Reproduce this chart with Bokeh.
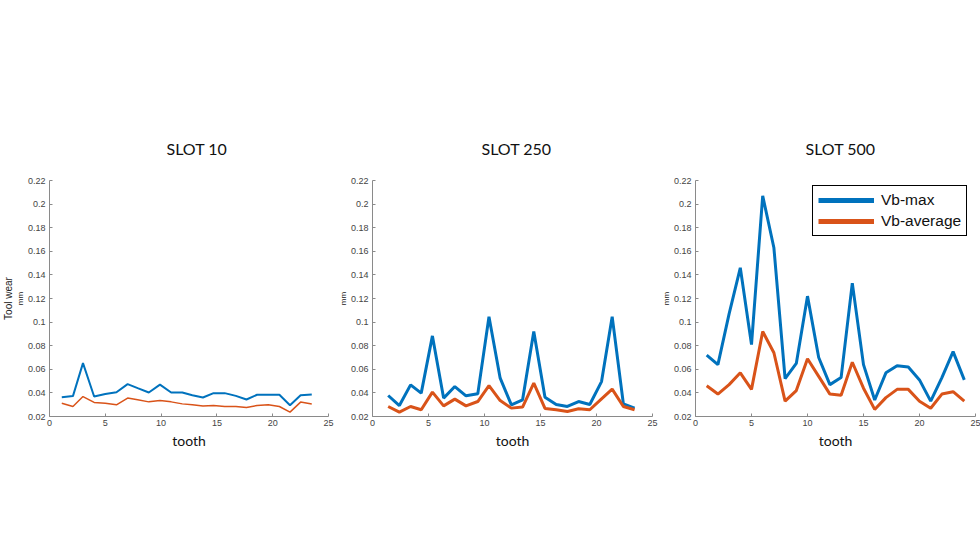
from bokeh.plotting import figure
from bokeh.models import Range1d, FixedTicker, Legend, LegendItem, Spacer, Title
from bokeh.layouts import row, column
from bokeh.embed import file_html
from bokeh.resources import INLINE

# ---------------- data ----------------
titles = ["SLOT 10", "SLOT 250", "SLOT 500"]
x_ticks = [0, 5, 10, 15, 20, 25]
y_ticks = [0.02, 0.04, 0.06, 0.08, 0.1, 0.12, 0.14, 0.16, 0.18, 0.2, 0.22]
series_names = ["Vb-max", "Vb-average"]

x_slot10 = [1.1, 2.1, 3.0, 4.0, 5.0, 6.0, 7.0, 7.9, 8.9, 9.9, 10.9, 11.9,
            12.8, 13.75, 14.7, 15.7, 16.7, 17.65, 18.6, 19.6, 20.6, 21.55, 22.5, 23.5]
vbmax_slot10 = [0.0364, 0.0373, 0.0652, 0.0369, 0.039, 0.0406, 0.0474, 0.044, 0.0403, 0.047,
                0.0403, 0.0403, 0.038, 0.0361, 0.0398, 0.0398, 0.0375, 0.0344, 0.0384, 0.0384,
                0.0384, 0.0296, 0.038, 0.0386]
vbavg_slot10 = [0.0313, 0.0285, 0.0369, 0.0319, 0.0313, 0.0299, 0.0356, 0.0341, 0.0324, 0.0335,
                0.0324, 0.0307, 0.030, 0.029, 0.0293, 0.0285, 0.0285, 0.0276, 0.0293, 0.030,
                0.0285, 0.0237, 0.0322, 0.0305]

x_slot250 = [1.4, 2.4, 3.4, 4.35, 5.35, 6.35, 7.35, 8.35, 9.4, 10.4, 11.4, 12.4,
             13.4, 14.4, 15.4, 16.4, 17.4, 18.4, 19.4, 20.45, 21.4, 22.4, 23.4]
vbmax_slot250 = [0.0378, 0.0293, 0.0468, 0.0398, 0.0883, 0.0356, 0.0454, 0.0375, 0.0392, 0.1046,
                 0.0525, 0.0299, 0.0341, 0.092, 0.0364, 0.0302, 0.0285, 0.0327, 0.0302, 0.0496,
                 0.1046, 0.0307, 0.0271]
vbavg_slot250 = [0.0285, 0.0237, 0.0285, 0.0257, 0.0407, 0.029, 0.0347, 0.029, 0.0327, 0.0462,
                 0.0335, 0.0271, 0.028, 0.0483, 0.0268, 0.0257, 0.0242, 0.0265, 0.0257, 0.035,
                 0.0432, 0.0285, 0.0257]

x_slot500 = [1, 2, 3, 4, 5, 6, 7, 8, 9, 10, 11, 12, 13, 14, 15, 16, 17, 18, 19, 20, 21, 22, 23, 24]
vbmax_slot500 = [0.072, 0.064, 0.107, 0.146, 0.081, 0.207, 0.163, 0.052, 0.065, 0.122, 0.070, 0.047,
                 0.053, 0.133, 0.064, 0.034, 0.057, 0.063, 0.062, 0.051, 0.033, 0.053, 0.075, 0.051]
vbavg_slot500 = [0.046, 0.039, 0.047, 0.057, 0.043, 0.092, 0.074, 0.033, 0.042, 0.069, 0.054, 0.039,
                 0.038, 0.066, 0.044, 0.026, 0.036, 0.043, 0.043, 0.033, 0.027, 0.039, 0.041, 0.033]

BLUE = "#0072BD"
ORANGE = "#D95319"
AXIS_C = "#8a8a8a"
TICK_C = "#444444"
TOP = 72


def make_panel(title, title_off, xs, ymax, yavg, frame_w, bl, br, lw_max, lw_avg, ylabels):
    p = figure(width=frame_w + bl + br, height=TOP + 236 + 45,
               frame_width=frame_w, frame_height=236,
               min_border_left=bl, min_border_right=br,
               min_border_top=TOP, min_border_bottom=45,
               x_range=Range1d(0, 25), y_range=Range1d(0.02, 0.22),
               title=title, output_backend="svg", toolbar_location=None,
               tools="")
    p.title.align = "left"
    p.title.offset = title_off
    p.title.standoff = 46
    p.title.text_font = "Lato"
    p.title.text_font_size = "16px"
    p.title.text_font_style = "normal"
    p.title.text_color = "#111111"
    p.outline_line_color = None
    p.xgrid.visible = False
    p.ygrid.visible = False
    p.background_fill_color = "white"
    p.border_fill_color = "white"

    for ax in (p.xaxis[0], p.yaxis[0]):
        ax.axis_line_color = AXIS_C
        ax.major_tick_line_color = AXIS_C
        ax.minor_tick_line_color = None
        ax.major_tick_in = 3
        ax.major_tick_out = 0
        ax.major_label_text_font = "Liberation Sans"
        ax.major_label_text_font_size = "9px"
        ax.major_label_text_color = TICK_C
    p.xaxis.ticker = FixedTicker(ticks=x_ticks)
    p.yaxis.ticker = FixedTicker(ticks=y_ticks)
    p.yaxis.major_label_overrides = {t: f"{t:g}" for t in y_ticks}
    p.xaxis.major_label_standoff = 3
    p.yaxis.major_label_standoff = 4
    p.xaxis.axis_label = "tooth"
    p.xaxis.axis_label_text_font = "Lato"
    p.xaxis.axis_label_text_font_size = "14px"
    p.xaxis.axis_label_text_font_style = "normal"
    p.xaxis.axis_label_text_color = "#111111"
    p.xaxis.axis_label_standoff = 3

    for text, size in ylabels:
        p.add_layout(Title(text=text, align="center", text_font="Liberation Sans",
                           text_font_size=size, text_font_style="normal",
                           text_color="#222222", standoff=0, offset=0), "left")

    p.line(xs, ymax, line_color=BLUE, line_width=lw_max)
    p.line(xs, yavg, line_color=ORANGE, line_width=lw_avg)
    return p


p1 = make_panel(titles[0], 117, x_slot10, vbmax_slot10, vbavg_slot10, 279, 49, 8, 2, 1.5,
                [("mm", "8px"), ("Tool wear", "10px")])
p2 = make_panel(titles[1], 109, x_slot250, vbmax_slot250, vbavg_slot250, 280, 32, 7, 3, 3,
                [("mm", "8px")])
p3 = make_panel(titles[2], 110, x_slot500, vbmax_slot500, vbavg_slot500, 280, 32, 5, 3, 3,
                [("mm", "8px")])

# legend with thick line samples (hidden copies of the series, used only for the key)
lg_max = p3.line(x_slot500, vbmax_slot500, line_color=BLUE, line_width=5, visible=False)
lg_avg = p3.line(x_slot500, vbavg_slot500, line_color=ORANGE, line_width=5, visible=False)
legend = Legend(items=[LegendItem(label=series_names[0], renderers=[lg_max]),
                       LegendItem(label=series_names[1], renderers=[lg_avg])],
                location=(117, 180), orientation="vertical",
                border_line_color="black", border_line_width=1, border_line_alpha=1,
                background_fill_color="white", background_fill_alpha=1,
                inactive_fill_alpha=0,
                label_text_font="Liberation Sans", label_text_font_size="15.5px",
                label_text_color="#111111",
                glyph_width=56, glyph_height=16, label_height=16,
                label_standoff=7, padding=5, spacing=3, margin=0)
p3.add_layout(legend)

layout = column(Spacer(height=180 - TOP, width=972), row(p1, p2, p3))

open("out.html", "w").write(file_html(layout, INLINE))
